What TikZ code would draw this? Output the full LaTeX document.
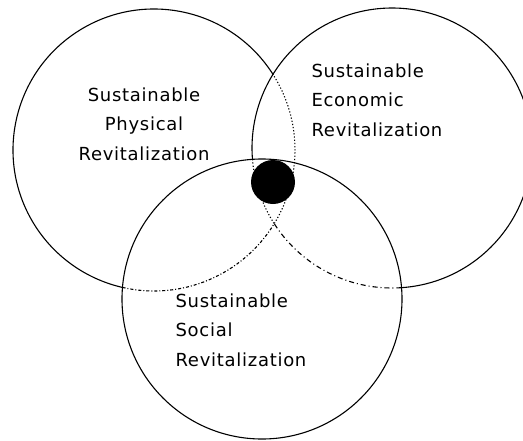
\documentclass[tikz,border=0pt]{standalone}
\usepackage{fontspec}
\newfontfamily\lblfont{DejaVu Sans}[LetterSpace=4]
\begin{document}
\begin{tikzpicture}[x=1pt,y=1pt,line width=1.1pt,
  lbl/.style={font=\lblfont\fontsize{18}{29.5}\selectfont, inner sep=0pt},
  dashdot/.style={dash pattern=on 3pt off 2pt on 1pt off 2pt},
  dashlong/.style={dash pattern=on 5pt off 3pt on 1pt off 3pt},
  dots/.style={dash pattern=on 1.2pt off 2pt}]
\useasboundingbox (0,0) rectangle (523,-440);
\coordinate (A) at (154,-150);
\coordinate (B) at (392,-148);
\coordinate (C) at (262,-299);
% circle A (physical)
\draw (A) ++(32.2:141) arc[start angle=32.2, end angle=257.1, radius=141];
\draw[dots] (A) ++(-31.4:141) arc[start angle=-31.4, end angle=32.2, radius=141];
\draw[dashdot] (A) ++(-102.9:141) arc[start angle=-102.9, end angle=-31.4, radius=141];
% circle B (economic)
\draw (B) ++(-446.1:140) arc[start angle=-446.1, end angle=-175.4, radius=140];
\draw[dashlong] (B) ++(-147.1:140) arc[start angle=-147.1, end angle=-86.1, radius=140];
\draw[dots] (B) ++(-175.4:140) arc[start angle=-175.4, end angle=-147.1, radius=140];
% circle C (social)
\draw (C) circle[radius=140];
% core
\node[circle, fill=black, minimum size=44pt, inner sep=0pt] (core) at (273,-182) {};
% labels
\node[lbl, align=center] (phys) at (144,-124) {Sustainable\\Physical\\Revitalization};
\node[lbl, align=left, anchor=west] (econ) at (311,-100) {Sustainable\\Economic\\Revitalization};
\node[lbl, align=left, anchor=west] (soc) at (175,-330) {Sustainable\\Social\\Revitalization};
\end{tikzpicture}
\end{document}
